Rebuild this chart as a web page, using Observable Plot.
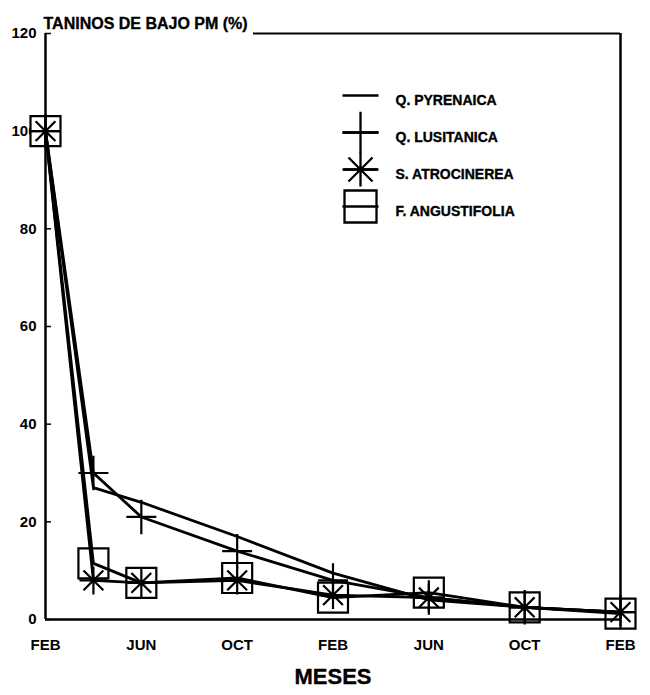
<!DOCTYPE html>
<html>
<head>
<meta charset="utf-8">
<script src="https://cdn.jsdelivr.net/npm/d3@7"></script>
<script src="https://cdn.jsdelivr.net/npm/@observablehq/plot@0.6"></script>
<style>
  html, body { margin: 0; padding: 0; background: #fff; }
  #chart svg { display: block; }
</style>
</head>
<body>
<div id="chart"></div>
<script>
// Sampling times, in months from the first February
const months = [0, 2, 4, 8, 12, 16, 20, 24];
const tickMonths = [0, 4, 8, 12, 16, 20, 24];
const tickLabels = ["FEB", "JUN", "OCT", "FEB", "JUN", "OCT", "FEB"];
const yTicks = [0, 20, 40, 60, 80, 100, 120];

// Low molecular weight tannins (% of initial) per species
const seriesNames = ["Q. PYRENAICA", "Q. LUSITANICA", "S. ATROCINEREA", "F. ANGUSTIFOLIA"];
const pyrenaica    = [100, 27, 24, 17, 9.5, 4, 2.5, 1.5];
const lusitanica   = [100, 30, 21, 14, 8, 4.5, 2.5, 1.5];
const atrocinerea  = [100, 8, 7.5, 8, 5, 4.5, 2.5, 1.5];
const angustifolia = [100, 11.5, 7.5, 8.5, 4.5, 5.5, 2.5, 1.2];
const seriesValues = [pyrenaica, lusitanica, atrocinerea, angustifolia];

const rows = [];
seriesValues.forEach((vals, i) =>
  vals.forEach((v, j) => rows.push({series: seriesNames[i], month: months[j], value: v}))
);

// Stroked marker shapes; r is the half-size of each glyph
const half = size => Math.sqrt(size / Math.PI);
const plusSym = {draw(c, size) { const h = half(size);
  c.moveTo(-h, 0); c.lineTo(h, 0); c.moveTo(0, -h * 1.15); c.lineTo(0, h * 1.15); }};
const starSym = {draw(c, size) { const h = half(size), d = h * Math.SQRT1_2;
  c.moveTo(-h, 0); c.lineTo(h, 0); c.moveTo(0, -h); c.lineTo(0, h);
  c.moveTo(-d, -d); c.lineTo(d, d); c.moveTo(-d, d); c.lineTo(d, -d); }};
const boxSym = {draw(c, size) { const h = half(size); c.rect(-h, -h, 2 * h, 2 * h); }};
const dashSym = {draw(c, size) { const h = half(size); c.moveTo(-h, 0); c.lineTo(h, 0); }};

const legendMarker = {
  "Q. LUSITANICA": {symbol: plusSym, r: 18},
  "S. ATROCINEREA": {symbol: starSym, r: 17},
  "F. ANGUSTIFOLIA": {symbol: boxSym, r: 16}
};
const seriesRows = name => rows.filter(d => d.series === name);

const W = 650, H = 695;
const M = {top: 33, right: 30, bottom: 76, left: 45};
const plotW = W - M.left - M.right;
const font = "'Liberation Sans', Arial, sans-serif";
const heavy = {fill: "black", stroke: "black", strokeWidth: 0.35, fontWeight: "bold"};

const marks = [
  Plot.axisY({ticks: yTicks, tickSize: 0, tickPadding: 9, label: null, fontSize: 15, ...heavy}),
  Plot.axisX({ticks: tickMonths, tickSize: 0, tickPadding: 20, label: null, fontSize: 15, ...heavy,
    tickFormat: d => tickLabels[tickMonths.indexOf(d)]}),
  // boxes are opaque, so they sit under the axes and lines
  Plot.dot(seriesRows("F. ANGUSTIFOLIA"), {x: "month", y: "value", symbol: boxSym, r: 15,
    stroke: "black", fill: "white", strokeWidth: 2.2}),
  // frame: left axis, right side, baseline, and a top edge that starts after the title
  Plot.ruleX([0], {strokeWidth: 2.5}),
  Plot.ruleX([24], {strokeWidth: 2.5}),
  Plot.ruleY([0], {strokeWidth: 2.5}),
  Plot.ruleY([120], {strokeWidth: 2, insetLeft: 208}),
  // short inward ticks on the y axis
  Plot.ruleY(yTicks, {strokeWidth: 1.5, insetRight: plotW - 6}),
  // series lines
  Plot.line(rows, {x: "month", y: "value", z: "series", stroke: "black", strokeWidth: 2.8, curve: "linear"}),
  Plot.dot(seriesRows("S. ATROCINEREA"), {x: "month", y: "value", symbol: starSym, r: 14,
    stroke: "black", fill: "none", strokeWidth: 2.2}),
  Plot.dot(seriesRows("Q. LUSITANICA"), {x: "month", y: "value", symbol: plusSym, r: 15,
    stroke: "black", fill: "none", strokeWidth: 2.2})
];

// legend, top right inside the frame
seriesNames.forEach((name, i) => {
  const dy = 62 + i * 37;
  const m = legendMarker[name];
  if (m) marks.push(Plot.dot([name], {frameAnchor: "top-left", dx: 315, dy, symbol: m.symbol, r: m.r,
    stroke: "black", fill: "none", strokeWidth: 2.3}));
  marks.push(Plot.dot([name], {frameAnchor: "top-left", dx: 315, dy, symbol: dashSym, r: 18,
    stroke: "black", fill: "none", strokeWidth: 2.3}));
  marks.push(Plot.text([name], {frameAnchor: "top-left", dx: 350, dy, text: d => d, textAnchor: "start",
    fontSize: 14, ...heavy}));
});

// titles
marks.push(Plot.text(["TANINOS DE BAJO PM (%)"], {frameAnchor: "top-left", dx: -2, dy: -16, text: d => d,
  textAnchor: "start", fontSize: 16, ...heavy}));
marks.push(Plot.text(["MESES"], {frameAnchor: "bottom", dy: 64, text: d => d,
  fontSize: 22, ...heavy}));

const chart = Plot.plot({
  width: W, height: H,
  marginTop: M.top, marginRight: M.right, marginBottom: M.bottom, marginLeft: M.left,
  style: {fontFamily: font, background: "white", color: "black", overflow: "visible"},
  x: {domain: [0, 24]},
  y: {domain: [0, 120]},
  marks
});
document.getElementById("chart").append(chart);
</script>
</body>
</html>
